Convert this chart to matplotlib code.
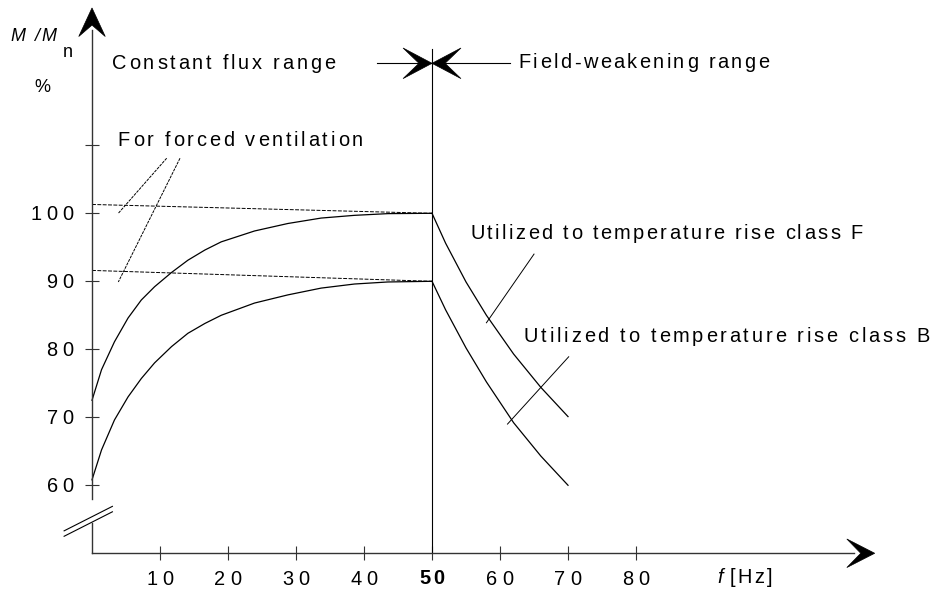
import matplotlib
matplotlib.use('Agg')
import matplotlib.pyplot as plt
from matplotlib import font_manager
from matplotlib.patches import Polygon
import numpy as np

plt.rcParams['font.family'] = ['Liberation Sans', 'DejaVu Sans']

# constant flux range (0..50 Hz), torque in % of rated
f_cf = [0, 1.4, 3.3, 5.3, 7.25, 9.2, 11.7, 14.1, 16.6, 19.0, 23.9, 28.8, 33.7, 38.6, 43.5, 50]
m_class_f_cf = [72.5, 77.0, 81.1, 84.6, 87.25, 89.2, 91.3, 93.1, 94.6, 95.8, 97.4, 98.5, 99.3, 99.7, 99.95, 100]
m_class_b_cf = [60.8, 65.2, 69.6, 73.0, 75.7, 78.0, 80.4, 82.35, 83.8, 85.0, 86.8, 88.0, 89.0, 89.6, 89.9, 90]

# field-weakening range (50..70 Hz)
f_fw = [50, 52, 55, 58, 62, 66, 70]
m_class_f_fw = [100, 95.6, 89.9, 85.0, 79.3, 74.4, 70.1]
m_class_b_fw = [90, 85.8, 80.2, 75.2, 69.2, 64.3, 60.0]

# forced ventilation (dashed)
f_vent = [0, 50]
m_vent_f = [101.3, 100]
m_vent_b = [91.6, 90]

x_ticks = [10, 20, 30, 40, 50, 60, 70, 80]
y_ticks = [60, 70, 80, 90, 100, 110]
y_tick_labels = ['60', '70', '80', '90', '100', '']

fig = plt.figure(figsize=(9.37, 5.94), dpi=100)
ax = fig.add_axes([0, 0, 1, 1])
ax.set_xlim(-13.53, 124.26)
ax.set_ylim(44.01, 131.37)
ax.set_facecolor('white')


def char_advances(s, size, weight='normal', style='normal'):
    prop = font_manager.FontProperties(family='Liberation Sans', size=size,
                                       weight=weight, style=style)
    font = font_manager.get_font(font_manager.findfont(prop))
    font.set_size(size, 72)
    return [font.load_char(ord(c)).linearHoriAdvance / 65536 for c in s]


def tracked_text(x, y, s, size=14.4, track=2.1, ha='left', weight='normal', style='normal'):
    """Draw a string with extra letter spacing (track in points), y is the baseline."""
    adv = char_advances(s, size, weight, style)
    total = sum(adv) + track * (len(s) - 1)
    off = {'left': 0, 'center': -total / 2, 'right': -total}[ha]
    for c, a in zip(s, adv):
        if c != ' ':
            ax.annotate(c, (x, y), xytext=(off, 0), textcoords='offset points',
                        ha='left', va='baseline', fontsize=size,
                        fontweight=weight, fontstyle=style, color='black')
        off += a + track


def arrowhead(tip, direction, length, half, notch=0.5):
    d = np.array(direction, float)
    d /= np.hypot(*d)
    n = np.array([-d[1], d[0]])
    tip = np.array(tip, float)
    back = tip - d * length
    pts = [tip, back + n * half, tip - d * length * notch, back - n * half]
    ax.add_patch(Polygon(pts, closed=True, facecolor='black', edgecolor='black',
                         lw=0.5, clip_on=False, zorder=5))


# axes
ax.spines['left'].set_position(('data', 0))
ax.spines['left'].set_bounds(58, 127)
ax.spines['bottom'].set_position(('data', 50))
ax.spines['bottom'].set_bounds(0, 112)
for side in ['top', 'right']:
    ax.spines[side].set_visible(False)
for side in ['left', 'bottom']:
    ax.spines[side].set_color('0.2')
    ax.spines[side].set_linewidth(1.0)
ax.plot([0, 0], [50, 54.4], color='0.2', lw=1.0)
ax.set_xticks(x_ticks)
ax.set_yticks(y_ticks)
ax.tick_params(direction='inout', length=10, width=0.8, color='0.2',
               labelleft=False, labelbottom=False)

# axis break marks
ax.plot([-4.1, 3.0], [53.3, 56.9], color='black', lw=0.8)
ax.plot([-4.1, 3.0], [52.5, 56.1], color='black', lw=0.8)

arrowhead((0, 130.2), (0, 1), 4.2, 1.95, notch=0.6)
arrowhead((115.1, 50), (1, 0), 4.1, 2.1, notch=0.5)

# curves
ax.plot(f_cf, m_class_f_cf, color='black', lw=0.9)
ax.plot(f_cf, m_class_b_cf, color='black', lw=0.9)
ax.plot(f_fw, m_class_f_fw, color='black', lw=0.9)
ax.plot(f_fw, m_class_b_fw, color='black', lw=0.9)
ax.plot(f_vent, m_vent_f, color='black', lw=0.7, ls=(0, (4, 1.5)))
ax.plot(f_vent, m_vent_b, color='black', lw=0.7, ls=(0, (4, 1.5)))

# 50 Hz boundary with range arrows
ax.plot([50, 50], [50, 124.2], color='black', lw=0.8)
ax.plot([41.9, 50], [122.06, 122.06], color='black', lw=0.8)
ax.plot([50, 61.5], [122.06, 122.06], color='black', lw=0.8)
arrowhead((50, 122.06), (1, 0), 4.26, 2.25, notch=0.45)
arrowhead((50, 122.06), (-1, 0), 4.26, 2.25, notch=0.45)

# leader lines
ax.plot([10.98, 3.87], [108.1, 100.0], color='black', lw=0.7, ls=(0, (3, 1)))
ax.plot([12.94, 3.87], [108.1, 89.9], color='black', lw=0.7, ls=(0, (3, 1)))
ax.plot([65.0, 58.0], [94.0, 83.9], color='black', lw=0.7)
ax.plot([70.1, 61.1], [78.9, 69.0], color='black', lw=0.7)

# annotations
tracked_text(2.95, 121.2, 'Constant flux range', track=2.0)
tracked_text(62.7, 121.3, 'Field-weakening range', track=1.75)
tracked_text(3.8, 109.9, 'For forced ventilation', track=2.0)
tracked_text(55.6, 96.2, 'Utilized to temperature rise class F', track=1.75)
tracked_text(63.5, 81.1, 'Utilized to temperature rise class B', track=2.0)

# tick labels
for v, lab in zip(y_ticks, y_tick_labels):
    if lab:
        tracked_text(-2.68, v - 1.04, lab, track=3.6, ha='right')
for v in x_ticks:
    if v == 50:
        tracked_text(v, 45.5, str(v), track=2.2, ha='center', weight='bold')
    else:
        tracked_text(v, 45.4, str(v), track=3.6, ha='center')

# axis titles
tracked_text(91.9, 45.6, 'f', style='italic', track=0)
tracked_text(93.7, 45.6, '[Hz]', track=1.9)
tracked_text(-12.06, 125.4, 'M /M', size=13, track=1.5, style='italic')
tracked_text(-4.34, 123.0, 'n', size=13, track=0)
tracked_text(-7.28, 117.9, '%', size=13, track=0, ha='center')

fig.savefig('out.png', dpi=100, facecolor='white')
